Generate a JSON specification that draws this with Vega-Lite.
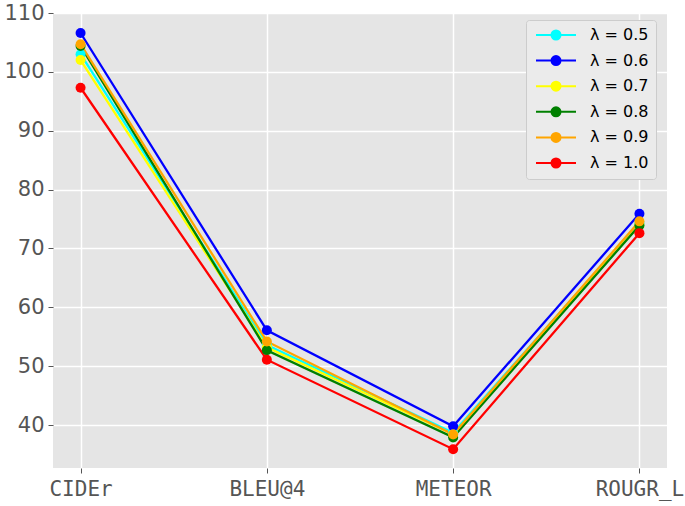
{
  "$schema": "https://vega.github.io/schema/vega-lite/v6.json",
  "width": 614,
  "height": 455,
  "autosize": {"type": "none"},
  "padding": {"left": 53, "top": 13, "right": 18, "bottom": 38},
  "background": "white",
  "config": {
    "view": {"fill": "#e5e5e5", "stroke": null},
    "axis": {
      "domain": false,
      "grid": true,
      "gridColor": "#ffffff",
      "gridWidth": 1.5,
      "tickColor": "#555555",
      "tickSize": 5,
      "labelColor": "#555555",
      "title": null
    }
  },
  "data": {
    "values": [
      {"metric": "CIDEr", "lam": "λ = 0.5", "score": 103.0},
      {"metric": "BLEU@4", "lam": "λ = 0.5", "score": 53.6},
      {"metric": "METEOR", "lam": "λ = 0.5", "score": 38.7},
      {"metric": "ROUGR_L", "lam": "λ = 0.5", "score": 74.3},
      {"metric": "CIDEr", "lam": "λ = 0.6", "score": 106.6},
      {"metric": "BLEU@4", "lam": "λ = 0.6", "score": 56.1},
      {"metric": "METEOR", "lam": "λ = 0.6", "score": 39.8},
      {"metric": "ROUGR_L", "lam": "λ = 0.6", "score": 75.9},
      {"metric": "CIDEr", "lam": "λ = 0.7", "score": 102.0},
      {"metric": "BLEU@4", "lam": "λ = 0.7", "score": 53.2},
      {"metric": "METEOR", "lam": "λ = 0.7", "score": 38.4},
      {"metric": "ROUGR_L", "lam": "λ = 0.7", "score": 74.0},
      {"metric": "CIDEr", "lam": "λ = 0.8", "score": 104.4},
      {"metric": "BLEU@4", "lam": "λ = 0.8", "score": 52.7},
      {"metric": "METEOR", "lam": "λ = 0.8", "score": 37.9},
      {"metric": "ROUGR_L", "lam": "λ = 0.8", "score": 73.9},
      {"metric": "CIDEr", "lam": "λ = 0.9", "score": 104.7},
      {"metric": "BLEU@4", "lam": "λ = 0.9", "score": 54.2},
      {"metric": "METEOR", "lam": "λ = 0.9", "score": 38.4},
      {"metric": "ROUGR_L", "lam": "λ = 0.9", "score": 74.6},
      {"metric": "CIDEr", "lam": "λ = 1.0", "score": 97.3},
      {"metric": "BLEU@4", "lam": "λ = 1.0", "score": 51.1},
      {"metric": "METEOR", "lam": "λ = 1.0", "score": 35.9},
      {"metric": "ROUGR_L", "lam": "λ = 1.0", "score": 72.6}
    ]
  },
  "mark": {"type": "line", "strokeWidth": 2.3, "point": {"filled": true, "size": 100, "opacity": 1}},
  "encoding": {
    "x": {
      "field": "metric",
      "type": "ordinal",
      "sort": ["CIDEr", "BLEU@4", "METEOR", "ROUGR_L"],
      "scale": {"type": "point", "padding": 0.148},
      "axis": {"labelAngle": 0, "labelFont": "DejaVu Sans Mono", "labelFontSize": 21, "labelPadding": 5, "grid": true}
    },
    "y": {
      "field": "score",
      "type": "quantitative",
      "scale": {"domain": [32.7, 110], "nice": false, "zero": false},
      "axis": {"values": [40, 50, 60, 70, 80, 90, 100, 110], "labelFont": "DejaVu Sans", "labelFontSize": 21, "labelPadding": 4}
    },
    "color": {
      "field": "lam",
      "type": "nominal",
      "scale": {
        "domain": ["λ = 0.5", "λ = 0.6", "λ = 0.7", "λ = 0.8", "λ = 0.9", "λ = 1.0"],
        "range": ["#00ffff", "#0000ff", "#ffff00", "#008000", "#ffa500", "#ff0000"]
      },
      "legend": {
        "title": null,
        "orient": "none",
        "legendX": 473,
        "legendY": 7,
        "padding": 7,
        "fillColor": "#ebebeb",
        "strokeColor": "#cccccc",
        "cornerRadius": 3,
        "symbolType": "M-4,0H4M-0.9,0A0.9,0.9 0 1,1 0.9,0A0.9,0.9 0 1,1 -0.9,0Z",
        "symbolSize": 100,
        "symbolStrokeWidth": 2,
        "symbolOffset": 15,
        "labelOffset": 26,
        "rowPadding": 7.6,
        "labelFont": "DejaVu Sans",
        "labelFontSize": 16,
        "labelColor": "#000000",
        "encode": {
          "symbols": {
            "update": {
              "fill": {"scale": "color", "field": "value"},
              "stroke": {"scale": "color", "field": "value"},
              "opacity": {"value": 1}
            }
          }
        }
      }
    }
  }
}
